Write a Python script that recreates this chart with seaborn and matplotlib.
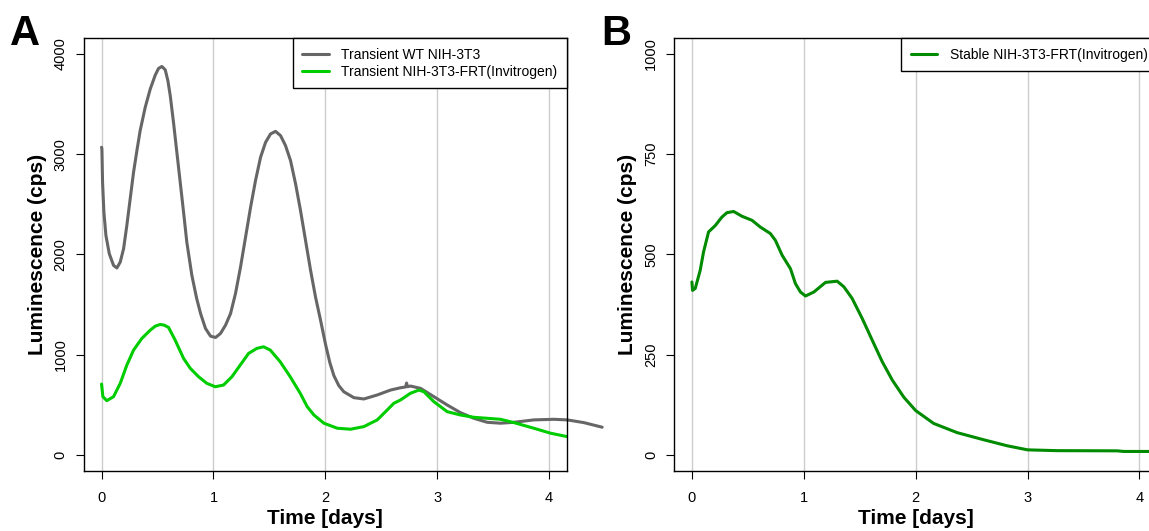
import matplotlib
matplotlib.use("Agg")
import matplotlib.pyplot as plt
import pandas as pd
import seaborn as sns

# Bioluminescence time courses (time in days, luminescence in cps)
wt_time = [0.0, 0.003, 0.009, 0.021, 0.039, 0.069, 0.107, 0.137, 0.167, 0.197,
           0.226, 0.256, 0.286, 0.316, 0.345, 0.39, 0.435, 0.48, 0.509, 0.539,
           0.569, 0.593, 0.614, 0.643, 0.673, 0.703, 0.733, 0.762, 0.807, 0.85,
           0.885, 0.929, 0.974, 1.019, 1.063, 1.108, 1.153, 1.197, 1.242, 1.287,
           1.332, 1.376, 1.421, 1.466, 1.510, 1.555, 1.6, 1.644, 1.689, 1.734,
           1.778, 1.823, 1.868, 1.912, 1.957, 2.002, 2.04, 2.076, 2.12, 2.165,
           2.255, 2.344, 2.464, 2.583, 2.672, 2.718, 2.726, 2.734, 2.761, 2.851,
           2.970, 3.089, 3.208, 3.327, 3.447, 3.566, 3.685, 3.863, 4.042, 4.162,
           4.31, 4.474]
wt_lum = [3069, 3053, 2720, 2421, 2189, 2007, 1890, 1864, 1923, 2057,
          2289, 2555, 2820, 3036, 3235, 3467, 3650, 3790, 3856, 3876,
          3843, 3733, 3584, 3318, 3019, 2720, 2421, 2122, 1791, 1560,
          1409, 1260, 1183, 1170, 1210, 1293, 1409, 1609, 1873, 2172,
          2471, 2737, 2969, 3119, 3202, 3228, 3185, 3086, 2936, 2704,
          2438, 2139, 1841, 1575, 1343, 1100, 920, 790, 690, 628,
          569, 556, 596, 645, 668, 676, 715, 678, 685, 662,
          579, 496, 419, 363, 323, 314, 323, 347, 353, 347,
          320, 274]

frt_time = [0.0, 0.012, 0.047, 0.107, 0.167, 0.226, 0.286, 0.36, 0.435, 0.48,
            0.524, 0.56, 0.599, 0.658, 0.733, 0.793, 0.867, 0.941, 1.016, 1.09,
            1.165, 1.239, 1.314, 1.388, 1.448, 1.508, 1.597, 1.686, 1.776, 1.838,
            1.898, 1.987, 2.106, 2.225, 2.344, 2.464, 2.553, 2.612, 2.672, 2.761,
            2.836, 2.881, 2.97, 3.089, 3.208, 3.327, 3.447, 3.566, 3.685, 3.863,
            4.013, 4.162]
frt_lum = [705, 579, 539, 579, 712, 894, 1044, 1160, 1243, 1283,
           1300, 1293, 1270, 1143, 961, 862, 778, 712, 678, 695,
           778, 894, 1011, 1061, 1077, 1044, 927, 778, 612, 479,
           396, 314, 264, 254, 280, 347, 446, 513, 546, 613,
           645, 628, 529, 429, 396, 373, 363, 353, 320, 264,
           214, 180]

stable_time = [0.0, 0.006, 0.03, 0.074, 0.104, 0.149, 0.209, 0.268, 0.313, 0.373,
               0.448, 0.537, 0.612, 0.701, 0.746, 0.806, 0.881, 0.925, 0.970, 1.015,
               1.09, 1.194, 1.298, 1.358, 1.432, 1.522, 1.611, 1.701, 1.791, 1.895,
               2.0, 2.16, 2.37, 2.61, 2.82, 3.0, 3.26, 3.80, 3.86, 4.16]
stable_lum = [431, 410, 415, 460, 506, 556, 572, 593, 604, 607,
              595, 585, 568, 552, 535, 498, 464, 427, 406, 396,
              406, 430, 433, 419, 390, 340, 286, 232, 186, 143,
              110, 78, 55, 37, 22, 12, 10, 9.5, 8, 8]

series_a = ["Transient WT NIH-3T3", "Transient NIH-3T3-FRT(Invitrogen)"]
series_b = ["Stable NIH-3T3-FRT(Invitrogen)"]
day_ticks = [0, 1, 2, 3, 4]
lum_ticks_a = [0, 1000, 2000, 3000, 4000]
lum_ticks_b = [0, 250, 500, 750, 1000]

colors = {series_a[0]: "#666666", series_a[1]: "#00CD00", series_b[0]: "#008B00"}

sns.set_style("ticks")
plt.rcParams["font.family"] = ["Liberation Sans", "DejaVu Sans"]
plt.rcParams["text.color"] = "black"
plt.rcParams["axes.labelcolor"] = "black"

df_a = pd.concat([
    pd.DataFrame({"time": wt_time, "lum": wt_lum, "series": series_a[0]}),
    pd.DataFrame({"time": frt_time, "lum": frt_lum, "series": series_a[1]}),
], ignore_index=True)
df_b = pd.DataFrame({"time": stable_time, "lum": stable_lum, "series": series_b[0]})

fig = plt.figure(figsize=(11.49, 5.31), dpi=100)
ax_a = fig.add_axes([0.0728, 0.1136, 0.4207, 0.8148])
ax_b = fig.add_axes([0.5866, 0.1136, 0.4207, 0.8148])

sns.lineplot(data=df_a, x="time", y="lum", hue="series", hue_order=series_a,
             palette=colors, estimator=None, sort=False, lw=2.2, ax=ax_a)
sns.lineplot(data=df_b, x="time", y="lum", hue="series", hue_order=series_b,
             palette=colors, estimator=None, sort=False, lw=2.2, ax=ax_b)

# the WT trace runs on past the right edge of panel A
ax_a.lines[0].set_clip_on(False)

for ax, yticks, ymax in [(ax_a, lum_ticks_a, 4000), (ax_b, lum_ticks_b, 1000)]:
    pad = 0.04 * ymax
    ax.set_xlim(-0.16, 4.16)
    ax.set_ylim(-pad, ymax + pad)
    ax.set_xticks(day_ticks, [str(d) for d in day_ticks], fontsize=10.5)
    ax.set_yticks(yticks, [str(v) for v in yticks], fontsize=10.5,
                  rotation=90, va="center")
    ax.tick_params(axis="both", direction="out", length=5.5, width=0.8,
                   color="black", labelcolor="black")
    ax.tick_params(axis="x", pad=9)
    ax.tick_params(axis="y", pad=6)
    ax.grid(axis="x", color="#cccccc", lw=1.0)
    ax.grid(axis="y", visible=False)
    ax.set_axisbelow(True)
    for sp in ax.spines.values():
        sp.set_visible(True)
        sp.set_color("black")
        sp.set_linewidth(1.0)
    ax.set_xlabel("Time [days]", fontsize=15, fontweight="bold", labelpad=3)
    ax.set_ylabel("Luminescence (cps)", fontsize=15, fontweight="bold", labelpad=5)
    handles, labels = ax.get_legend_handles_labels()
    leg = ax.legend(handles, labels, loc="upper right", bbox_to_anchor=(1, 1),
                    borderaxespad=0, fontsize=10, frameon=True, fancybox=False,
                    edgecolor="black", framealpha=1, handlelength=1.9,
                    handletextpad=0.9, labelspacing=0.2, borderpad=0.7)
    leg.get_frame().set_linewidth(1.0)
    for line in leg.get_lines():
        line.set_linewidth(2.2)

fig.text(10 / 1149, 1 - 45 / 531, "A", fontsize=30, fontweight="bold", va="baseline")
fig.text(601 / 1149, 1 - 45 / 531, "B", fontsize=30, fontweight="bold", va="baseline")

fig.savefig("out.png", dpi=100)
